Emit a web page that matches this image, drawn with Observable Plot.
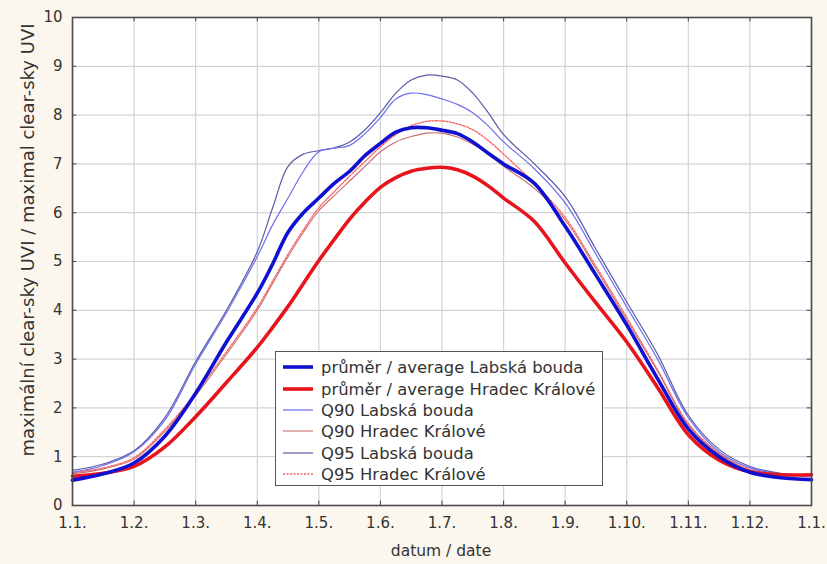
<!DOCTYPE html>
<html>
<head>
<meta charset="utf-8">
<script src="https://cdn.jsdelivr.net/npm/d3@7"></script>
<script src="https://cdn.jsdelivr.net/npm/@observablehq/plot@0.6"></script>
<style>
  html, body { margin: 0; padding: 0; background: #fcf7ee; }
  #wrap { position: relative; width: 827px; height: 564px; background: #fcf7ee; overflow: hidden; font-family: "DejaVu Sans", sans-serif; color: #333; }
  #ytitle { position: absolute; left: 27px; top: 240px; transform: translate(-50%, -50%) rotate(-90deg); white-space: nowrap; font-size: 18px; }
  #xtitle { position: absolute; left: 441px; top: 551px; transform: translate(-50%, -50%); white-space: nowrap; font-size: 15.5px; }
  #legend { position: absolute; left: 275px; top: 351px; width: 328px; height: 135px; border: 1px solid #555; background: #fff; box-sizing: border-box; }
  .row { position: absolute; left: 0; height: 20px; display: flex; align-items: center; font-size: 16.4px; white-space: nowrap; color: #333; }
  .row svg { margin-left: 7px; margin-right: 8px; }
</style>
</head>
<body>
<div id="wrap">
  <div id="chart"></div>
  <div id="ytitle">maximální clear-sky UVI / maximal clear-sky UVI</div>
  <div id="xtitle">datum / date</div>
  <div id="legend"></div>
</div>
<script>
// ---- data ----
const months = [0,0.5,1,1.5,2,2.5,3,3.25,3.5,3.75,4,4.25,4.5,4.75,5,5.25,5.5,5.75,6,6.25,6.5,6.75,7,7.5,8,8.5,9,9.5,10,10.5,11,11.5,12];
const monthLabels = ["1.1.","1.2.","1.3.","1.4.","1.5.","1.6.","1.7.","1.8.","1.9.","1.10.","1.11.","1.12.","1.1."];
const monthTicks = [0,1,2,3,4,5,6,7,8,9,10,11,12];
const yTicks = [0,1,2,3,4,5,6,7,8,9,10];

const meanLabska = [0.52,0.65,0.87,1.42,2.3,3.35,4.35,4.95,5.6,6.0,6.3,6.6,6.85,7.17,7.42,7.65,7.74,7.74,7.69,7.62,7.45,7.22,7.0,6.6,5.72,4.72,3.7,2.6,1.57,1.0,0.68,0.57,0.53];
const meanHradec = [0.6,0.66,0.8,1.2,1.82,2.52,3.24,3.65,4.08,4.55,5.02,5.45,5.87,6.22,6.52,6.72,6.85,6.91,6.93,6.88,6.75,6.55,6.3,5.82,4.97,4.15,3.35,2.42,1.45,0.93,0.69,0.63,0.63];
const q90Labska = [0.68,0.82,1.1,1.75,2.9,3.95,5.1,5.75,6.3,6.85,7.25,7.32,7.38,7.62,7.95,8.33,8.45,8.42,8.33,8.22,8.05,7.78,7.45,6.9,6.2,5.15,4.07,3.0,1.8,1.1,0.77,0.64,0.6];
const q90Hradec = [0.65,0.75,0.95,1.52,2.25,3.1,4.0,4.55,5.1,5.6,6.04,6.35,6.65,6.95,7.25,7.45,7.56,7.63,7.63,7.55,7.4,7.2,6.95,6.5,5.85,4.85,3.8,2.75,1.65,1.05,0.72,0.63,0.6];
const q95Labska = [0.72,0.85,1.12,1.8,2.95,4.0,5.2,6.1,6.95,7.2,7.27,7.33,7.45,7.7,8.05,8.45,8.72,8.82,8.8,8.72,8.45,8.05,7.6,7.0,6.33,5.25,4.17,3.1,1.85,1.15,0.8,0.66,0.62];
const q95Hradec = [0.67,0.77,0.98,1.56,2.3,3.15,4.05,4.6,5.15,5.65,6.1,6.43,6.75,7.05,7.35,7.6,7.78,7.87,7.88,7.82,7.7,7.48,7.2,6.6,5.9,4.9,3.85,2.78,1.68,1.07,0.74,0.65,0.62];

const seriesNames = [
  "průměr / average Labská bouda",
  "průměr / average Hradec Králové",
  "Q90 Labská bouda",
  "Q90 Hradec Králové",
  "Q95 Labská bouda",
  "Q95 Hradec Králové"
];
const seriesValues = [meanLabska, meanHradec, q90Labska, q90Hradec, q95Labska, q95Hradec];

// ---- styles ----
const styles = [
  {stroke: "#1010d0", width: 3.6, dash: null},
  {stroke: "#e8141c", width: 3.6, dash: null},
  {stroke: "#6d6df2", width: 1.2, dash: null},
  {stroke: "#c87070", width: 1.1, dash: null},
  {stroke: "#5a5aa6", width: 1.2, dash: null},
  {stroke: "#ff5c5c", width: 1.3, dash: "2,1.5"}
];
const drawOrder = [5, 3, 4, 2, 1, 0];

const lineMarks = drawOrder.map(i => {
  const data = months.map((m, k) => ({x: m, y: seriesValues[i][k]}));
  return Plot.line(data, {
    x: "x", y: "y", curve: "catmull-rom",
    stroke: styles[i].stroke, strokeWidth: styles[i].width,
    strokeDasharray: styles[i].dash ?? undefined,
    strokeLinejoin: "round", strokeLinecap: "round"
  });
});

const chart = Plot.plot({
  width: 827, height: 564,
  marginLeft: 72, marginRight: 16, marginTop: 17, marginBottom: 59,
  style: {background: "transparent", fontFamily: "DejaVu Sans, sans-serif", color: "#333"},
  x: {domain: [0, 12]},
  y: {domain: [0, 10]},
  marks: [
    Plot.frame({fill: "#ffffff", stroke: null}),
    Plot.gridX(monthTicks, {stroke: "#d4d4d4", strokeOpacity: 1, strokeWidth: 1.2}),
    Plot.gridY(yTicks, {stroke: "#d4d4d4", strokeOpacity: 1, strokeWidth: 1.2}),
    ...lineMarks,
    Plot.ruleY(yTicks, {x1: 0, x2: 0.07, stroke: "#444"}),
    Plot.ruleY(yTicks, {x1: 11.93, x2: 12, stroke: "#444"}),
    Plot.ruleX(monthTicks, {y1: 0, y2: 0.09, stroke: "#444"}),
    Plot.ruleX(monthTicks, {y1: 9.91, y2: 10, stroke: "#444"}),
    Plot.axisY(yTicks, {tickSize: 0, tickPadding: 10, fontSize: 15, label: null, fill: "#333"}),
    Plot.axisX(monthTicks, {tickSize: 0, tickPadding: 12, fontSize: 15, label: null, fill: "#333",
      tickFormat: d => monthLabels[d]}),
    Plot.frame({stroke: "#4a4a4a", strokeWidth: 1.6})
  ]
});
document.getElementById("chart").appendChild(chart);

// ---- legend ----
const legend = document.getElementById("legend");
const legendOrder = [0, 1, 2, 3, 4, 5];
const rowTops = [5, 27, 48, 69, 91, 112];
legendOrder.forEach((i, r) => {
  const row = document.createElement("div");
  row.className = "row";
  row.style.top = rowTops[r] + "px";
  const s = styles[i];
  const svgNS = "http://www.w3.org/2000/svg";
  const svg = document.createElementNS(svgNS, "svg");
  svg.setAttribute("width", 30); svg.setAttribute("height", 10);
  const ln = document.createElementNS(svgNS, "line");
  ln.setAttribute("x1", 0); ln.setAttribute("x2", 30);
  ln.setAttribute("y1", 5); ln.setAttribute("y2", 5);
  ln.setAttribute("stroke", s.stroke);
  ln.setAttribute("stroke-width", s.width);
  if (s.dash) ln.setAttribute("stroke-dasharray", s.dash);
  svg.appendChild(ln);
  row.appendChild(svg);
  const t = document.createElement("span");
  t.textContent = seriesNames[i];
  row.appendChild(t);
  legend.appendChild(row);
});
</script>
</body>
</html>
